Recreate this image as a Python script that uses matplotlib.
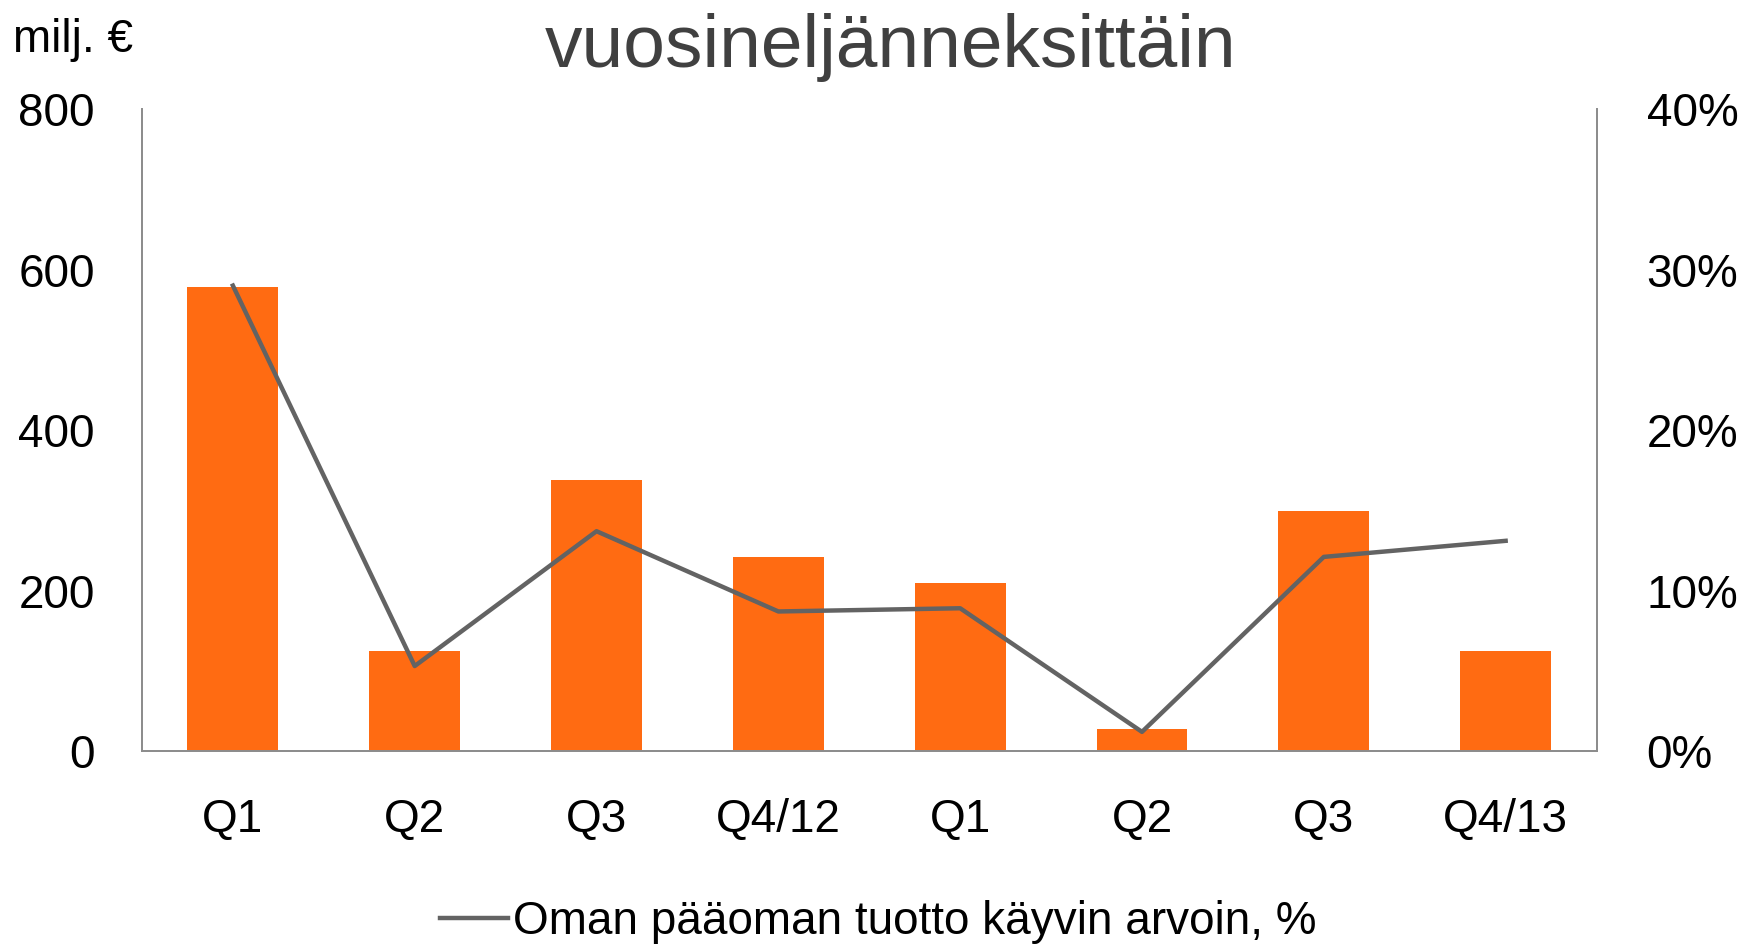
import matplotlib
matplotlib.use("Agg")
import matplotlib.pyplot as plt
from matplotlib.lines import Line2D
import numpy as np

plt.rcParams['font.family'] = ['Liberation Sans', 'DejaVu Sans']

# data
quarters = ["Q1", "Q2", "Q3", "Q4/12", "Q1", "Q2", "Q3", "Q4/13"]
result_meur = [578, 125, 338, 242, 209, 28, 299, 125]
roe_pct = [29.0, 5.3, 13.7, 8.7, 8.9, 1.2, 12.1, 13.1]

left_ticks = [0, 200, 400, 600, 800]
right_ticks = [0, 10, 20, 30, 40]

orange = "#FF6B12"
line_grey = "#636363"
spine_grey = "#8c8c8c"

fig = plt.figure(figsize=(17.42, 9.52), dpi=100)
ax = fig.add_axes([0.0815, 0.211, 0.835, 0.6745])
x = np.arange(len(quarters))

ax.bar(x, result_meur, width=0.5, color=orange, zorder=2)
ax.set_xlim(-0.5, len(quarters) - 0.5)
ax.set_ylim(0, 800)
ax.set_yticks(left_ticks)
ax.set_yticklabels([str(t) for t in left_ticks])
ax.set_xticks(x)
ax.set_xticklabels(quarters)
ax.tick_params(axis="both", length=0, labelsize=33, colors="black")
ax.tick_params(axis="x", pad=34)
ax.tick_params(axis="y", pad=34)

ax2 = ax.twinx()
ax2.plot(x, roe_pct, color=line_grey, linewidth=3.2, zorder=3)
ax2.set_ylim(0, 40)
ax2.set_yticks(right_ticks)
ax2.set_yticklabels([f"{t}%" for t in right_ticks])
ax2.tick_params(axis="y", length=0, labelsize=33, pad=36)

for a in (ax, ax2):
    a.spines["top"].set_visible(False)
    for s in ("left", "right", "bottom"):
        a.spines[s].set_color(spine_grey)
        a.spines[s].set_linewidth(1.3)

fig.text(0.511, 0.930, "vuosineljänneksittäin", ha="center", va="baseline",
         fontsize=54, color="#404040")
fig.text(0.0077, 0.945, "milj. €", ha="left", va="baseline", fontsize=33)

handle = Line2D([], [], color=line_grey, linewidth=3.2)
fig.legend([handle], ["Oman pääoman tuotto käyvin arvoin, %"], loc="center",
           bbox_to_anchor=(0.504, 0.031), frameon=False, fontsize=33,
           handlelength=1.5, handletextpad=0.1, borderpad=0)

fig.savefig("out.png", dpi=100)
